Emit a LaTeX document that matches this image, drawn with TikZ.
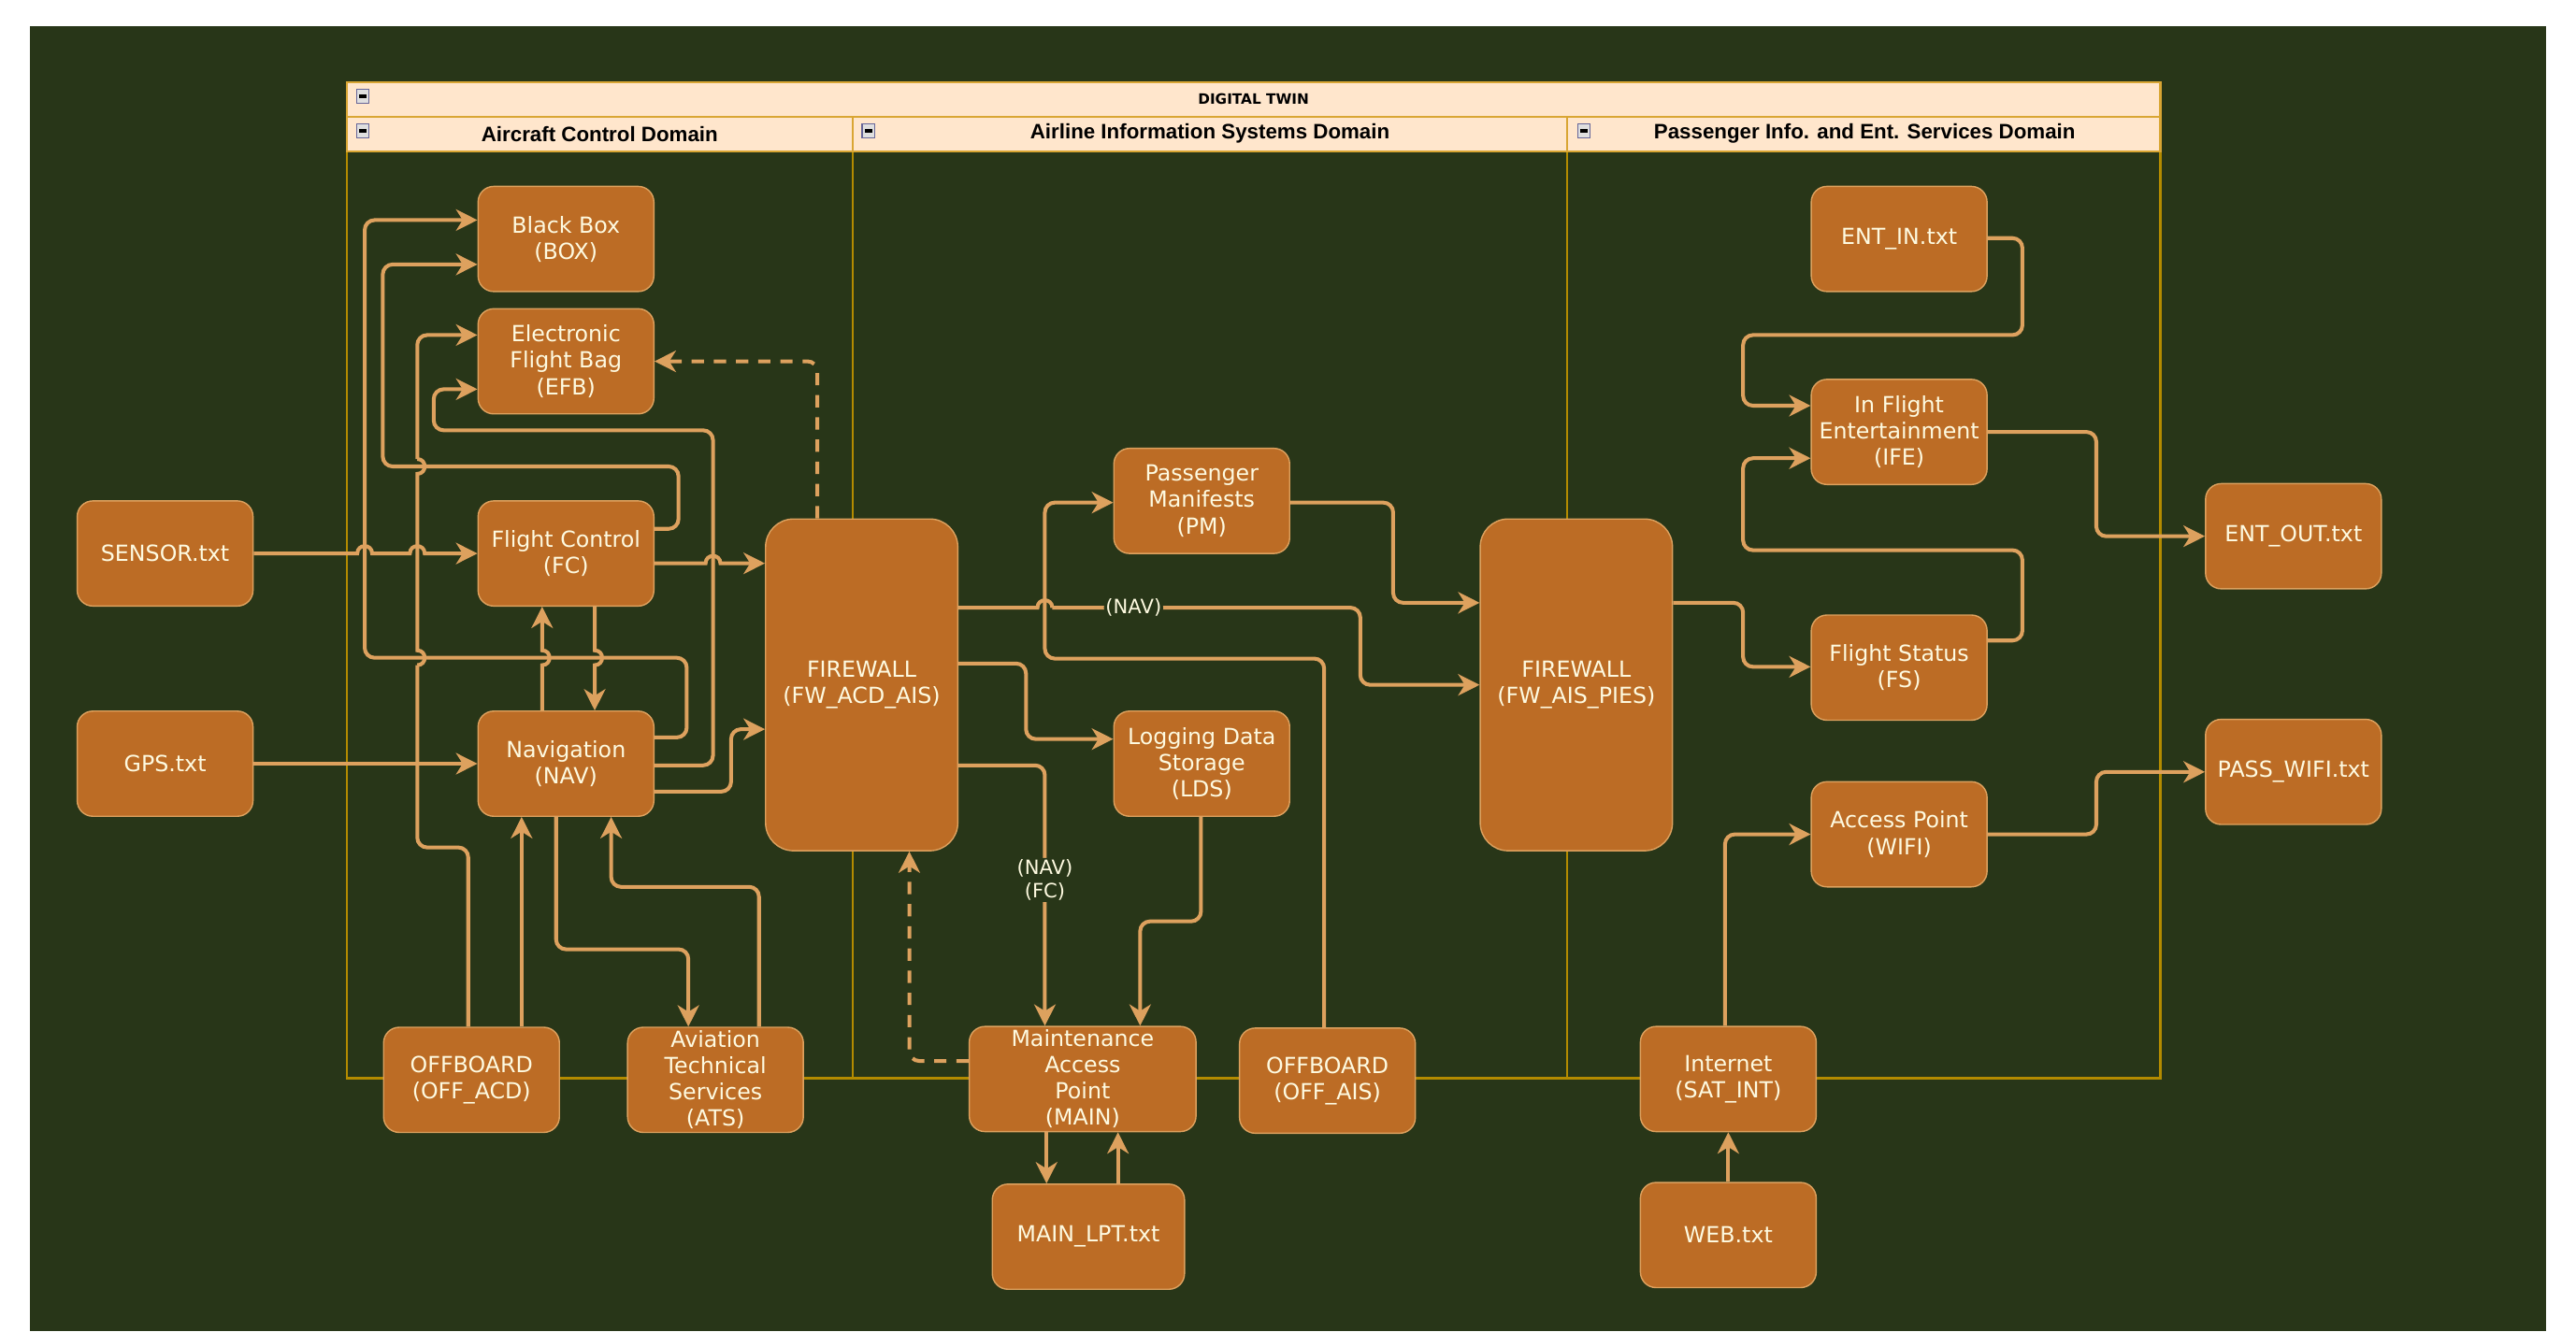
\documentclass[tikz,border=0pt]{standalone}
\usepackage{fontspec}
\setmainfont{DejaVu Sans}
\newfontfamily\hdrfont{Liberation Sans}
\usetikzlibrary{arrows.meta}
\definecolor{bg}{HTML}{283618}
\definecolor{nfill}{HTML}{BC6C25}
\definecolor{nline}{HTML}{DDA15E}
\definecolor{ntext}{HTML}{FEFAE0}
\definecolor{hfill}{HTML}{FFE6CC}
\definecolor{hline}{HTML}{D9A634}
\definecolor{lline}{HTML}{B38B00}
\begin{document}
\begin{tikzpicture}[x=1pt,y=-1pt,
  box/.style={draw=nline, line width=0.8pt, fill=nfill, rounded corners=9.5pt,
    minimum width=107pt, minimum height=64pt, inner sep=0pt, align=center,
    text=ntext, font=\fontsize{13.5pt}{16pt}\selectfont},
  fw/.style={box, minimum width=117pt, minimum height=202pt, rounded corners=17pt},
  seg/.style={draw=nline, line width=2.3pt, rounded corners=6pt},
  edge/.style={seg, -{Stealth[length=13pt,width=13pt,inset=4pt]}},
  dashedge/.style={dash pattern=on 7.5pt off 6pt},
  lbl/.style={fill=bg, inner sep=1pt, text=ntext, align=center,
    font=\fontsize{12pt}{14pt}\selectfont},
  hdr/.style={text=black, font=\hdrfont\bfseries\fontsize{12.7pt}{14pt}\selectfont},
  icon/.style={draw=gray!80!blue, fill=gray!25, line width=0.6pt, inner sep=0pt,
    minimum width=7.5pt, minimum height=8.5pt,
    path picture={\fill[black] ([xshift=-2.3pt,yshift=-1pt]path picture bounding box.center)
      rectangle ([xshift=2.3pt,yshift=1pt]path picture bounding box.center);}}
]
\useasboundingbox (0,0) rectangle (1568,810.5);
\fill[white] (0,0) rectangle (1568,810.5);
\fill[bg] (18,16) rectangle (1550,810.5);

% ---- pool and lanes ----
\draw[lline, line width=1.3pt] (211,92) -- (211,656.5) -- (1315,656.5) -- (1315,92);
\draw[lline, line width=1.3pt] (519,92) -- (519,656.5);
\draw[lline, line width=1.3pt] (954,92) -- (954,656.5);
\draw[draw=hline, fill=hfill, line width=1.2pt] (211,50) rectangle (1315,92);
\draw[draw=hline, line width=1.2pt] (211,71) -- (1315,71);
\draw[draw=hline, line width=1.2pt] (519,71) -- (519,92);
\draw[draw=hline, line width=1.2pt] (954,71) -- (954,92);
\node[text=black, font=\bfseries\fontsize{8.7pt}{10pt}\selectfont] (ttl) at (763,60.5) {DIGITAL TWIN};
\node[hdr] (h1) at (365,81.5) {Aircraft Control Domain};
\node[hdr] (h2) at (736.5,81.5) {Airline Information Systems Domain};
\node[hdr] (h3) at (1135,81.5) {Passenger Info. and Ent. Services Domain};
\node[icon] (i0) at (221,58.5) {};
\node[icon] (i1) at (221,79.7) {};
\node[icon] (i2) at (528.5,79.7) {};
\node[icon] (i3) at (964,79.7) {};

% ---- nodes ----
\node[box] (SENSOR) at (100.5,337) {SENSOR.txt};
\node[box] (GPS) at (100.5,465) {GPS.txt};
\node[box] (BOX) at (344.5,145.5) {Black Box\\(BOX)};
\node[box] (EFB) at (344.5,220) {Electronic\\Flight Bag\\(EFB)};
\node[box] (FC) at (344.5,337) {Flight Control\\(FC)};
\node[box] (NAV) at (344.5,465) {Navigation\\(NAV)};
\node[fw] (FW1) at (524.5,417) {FIREWALL\\(FW\_ACD\_AIS)};
\node[box] (OFFACD) at (287,657.5) {OFFBOARD\\(OFF\_ACD)};
\node[box] (ATS) at (435.5,657.5) {Aviation\\Technical\\Services\\(ATS)};
\node[box] (PM) at (731.5,305) {Passenger\\Manifests\\(PM)};
\node[box] (LDS) at (731.5,465) {Logging Data\\Storage\\(LDS)};
\node[box, minimum width=138pt] (MAIN) at (659,657) {Maintenance\\Access\\Point\\(MAIN)};
\node[box] (OFFAIS) at (808,658) {OFFBOARD\\(OFF\_AIS)};
\node[box, minimum width=117pt] (MAINLPT) at (662.5,753) {MAIN\_LPT.txt};
\node[fw] (FW2) at (959.5,417) {FIREWALL\\(FW\_AIS\_PIES)};
\node[box] (ENTIN) at (1156,145.5) {ENT\_IN.txt};
\node[box] (IFE) at (1156,263) {In Flight\\Entertainment\\(IFE)};
\node[box] (FS) at (1156,406.5) {Flight Status\\(FS)};
\node[box] (WIFI) at (1156,508) {Access Point\\(WIFI)};
\node[box] (SATINT) at (1052,657) {Internet\\(SAT\_INT)};
\node[box] (WEB) at (1052,752) {WEB.txt};
\node[box] (ENTOUT) at (1396,326.5) {ENT\_OUT.txt};
\node[box] (PASSWIFI) at (1396,470) {PASS\_WIFI.txt};

% ---- Aircraft control domain edges ----
\draw[edge, sharp corners] (SENSOR.east) -- (217.5,337) .. controls (217.5,331) and (226.5,331) .. (226.5,337)
  -- (249.5,337) .. controls (249.5,331) and (258.5,331) .. (258.5,337) -- (FC.west);
\draw[edge] (GPS) -- (NAV);
\draw[edge] (NAV.east |- 0,449) -| (418,400.5) -| (222,134) -- (BOX.west |- 0,134);
\draw[edge] (FC.east |- 0,322) -| (413,284) -| (233,161) -- (BOX.west |- 0,161);
% OFF_ACD -> EFB with two jumps
\draw[seg] (OFFACD.north -| 285,0) |- (254,516) -- (254,405);
\draw[seg, sharp corners] (254,405) .. controls (260,405) and (260,396) .. (254,396) -- (254,288.5)
  .. controls (260,288.5) and (260,279.5) .. (254,279.5);
\draw[edge] (254,279.5) |- (EFB.west |- 0,204);
\draw[edge] (NAV.east |- 0,466) -| (434,262) -| (264,237) -- (EFB.west |- 0,237);
\draw[edge, dashedge] (FW1.north -| 497.5,0) |- (EFB.east |- 0,220);
\draw[edge, sharp corners] (FC.east |- 0,343) -- (429.5,343) .. controls (429.5,337) and (438.5,337) .. (438.5,343)
  -- (FW1.west |- 0,343);
\draw[edge, sharp corners] (NAV.north -| 330,0) -- (330,405) .. controls (336,405) and (336,396) .. (330,396)
  -- (FC.south -| 330,0);
\draw[edge, sharp corners] (FC.south -| 362,0) -- (362,396) .. controls (368,396) and (368,405) .. (362,405)
  -- (NAV.north -| 362,0);
\draw[edge] (OFFACD.north -| 317.5,0) -- (NAV.south -| 317.5,0);
\draw[edge] (NAV.south -| 338.5,0) |- (419,578) -- (ATS.north -| 419,0);
\draw[edge] (ATS.north -| 462,0) |- (372,540) -- (NAV.south -| 372,0);
\draw[edge] (NAV.east |- 0,482) -| (445,444) -- (FW1.west |- 0,444);

% ---- Airline information systems domain edges ----
\draw[seg, sharp corners] (FW1.east |- 0,370) -- (631.5,370) .. controls (631.5,364) and (640.5,364) .. (640.5,370);
\draw[edge] (640.5,370) -- (690,370) node[lbl] (lnav) {(NAV)} -| (828,417) -- (FW2.west |- 0,417);
\draw[edge] (OFFAIS.north -| 806,0) |- (636,401) |- (PM.west |- 0,306);
\draw[edge] (FW1.east |- 0,404) -| (624.5,450) -- (LDS.west |- 0,450);
\draw[edge] (FW1.east |- 0,466) -| node[lbl, pos=0.72] (lnavfc) {(NAV)\\(FC)} (MAIN.north -| 636,0);
\draw[edge] (LDS.south -| 731,0) |- (694,561) -- (MAIN.north -| 694,0);
\draw[edge, dashedge] (MAIN.west |- 0,646) -| (FW1.south -| 553.5,0);
\draw[edge] (MAIN.south -| 637,0) -- (MAINLPT.north -| 637,0);
\draw[edge] (MAINLPT.north -| 680.5,0) -- (MAIN.south -| 680.5,0);
\draw[edge] (PM.east |- 0,306) -| (848,367) -- (FW2.west |- 0,367);

% ---- Passenger domain edges ----
\draw[edge] (FW2.east |- 0,367) -| (1061,406) -- (FS.west |- 0,406);
\draw[edge] (ENTIN.east |- 0,145) -| (1231,204) -| (1061,247) -- (IFE.west |- 0,247);
\draw[edge] (FS.east |- 0,390) -| (1231,335) -| (1061,279) -- (IFE.west |- 0,279);
\draw[edge] (IFE.east |- 0,263) -| (1276,326.5) -- (ENTOUT.west |- 0,326.5);
\draw[edge] (SATINT.north -| 1050,0) |- (WIFI.west |- 0,508);
\draw[edge] (WIFI.east |- 0,508) -| (1276,470) -- (PASSWIFI.west |- 0,470);
\draw[edge] (WEB) -- (SATINT);
\end{tikzpicture}
\end{document}
